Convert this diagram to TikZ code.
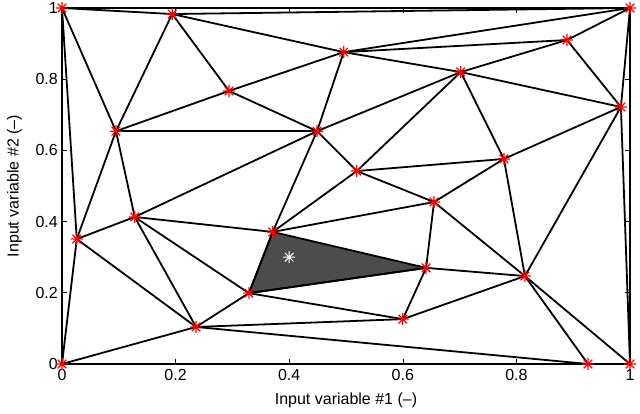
\documentclass[tikz,border=0pt]{standalone}
\usepackage{fontspec}
\setmainfont{Liberation Sans}
\begin{document}
\begin{tikzpicture}[x=1pt,y=1pt,
  edge/.style={line width=1.8pt,black},
  tri/.style={fill=black!70,draw=black,line width=1.8pt},
  lbl/.style={font=\fontsize{16}{19}\selectfont,inner sep=0pt}]
\useasboundingbox (0,0) rectangle (640,414);
\begin{scope}[shift={(62,50)},x=568pt,y=356pt]
\foreach \n/\px/\py in {A/0/1,B/0.194/0.983,C/0.496/0.876,D/0.702/0.82,E/0.889/0.91,F/1/1,G/0.984/0.722,H/0.294/0.767,I/0.095/0.654,J/0.449/0.654,K/0.778/0.576,L/0.519/0.542,M/0.655/0.455,N/0.128/0.413,O/0.026/0.351,P/0.371/0.371,Q/0.641/0.27,R/0.329/0.199,S/0.815/0.247,T/0.236/0.104,U/0.6/0.126,V/0/0,W/0.926/0,X/1/0}
  \coordinate (\n) at (\px,\py);
\coordinate (star) at (0.4,0.3);
\fill[tri] (P) -- (Q) -- (R) -- cycle;
\foreach \a/\b in {A/B,A/F,A/I,A/O,A/V,B/I,B/H,B/C,B/F,C/F,C/E,C/D,C/J,C/H,H/I,H/J,I/J,I/N,I/O,J/L,J/P,J/N,J/D,D/E,D/L,D/K,D/G,E/F,E/G,F/G,G/X,G/K,G/S,K/L,K/M,K/S,L/P,L/M,M/P,M/Q,M/S,Q/R,Q/S,Q/U,S/U,S/W,S/X,R/P,R/N,R/T,R/U,T/O,T/N,T/U,T/W,T/V,N/O,N/P,O/V,V/W,W/X,X/F}
  \draw[edge] (\a) -- (\b);
\foreach \t in {0,0.2,0.4,0.6,0.8,1}{
  \draw[line width=0.6pt] (\t,0) -- ++(0,5pt) (\t,1) -- ++(0,-5pt);
  \draw[line width=0.6pt] (0,\t) -- ++(5pt,0) (1,\t) -- ++(-5pt,0);
  \node[lbl,anchor=north] at ([yshift=-5pt]\t,0) {\t};
  \node[lbl,anchor=east] at ([xshift=-4pt]0,\t) {\t};
}
\draw[line width=1pt] (0,0) rectangle (1,1);
\foreach \n in {A,B,C,D,E,F,G,H,I,J,K,L,M,N,O,P,Q,R,S,T,U,V,W,X}
  \draw[red,line width=1.2pt] ([xshift=-6pt]\n) -- ([xshift=6pt]\n)
    ([yshift=-6pt]\n) -- ([yshift=6pt]\n)
    ([shift={(-4.3pt,-4.3pt)}]\n) -- ([shift={(4.3pt,4.3pt)}]\n)
    ([shift={(-4.3pt,4.3pt)}]\n) -- ([shift={(4.3pt,-4.3pt)}]\n);
\draw[white,line width=1pt] ([xshift=-6pt]star) -- ([xshift=6pt]star)
    ([yshift=-6pt]star) -- ([yshift=6pt]star)
    ([shift={(-4.3pt,-4.3pt)}]star) -- ([shift={(4.3pt,4.3pt)}]star)
    ([shift={(-4.3pt,4.3pt)}]star) -- ([shift={(4.3pt,-4.3pt)}]star);
\node[lbl,anchor=south] (xl) at (0.5,-0.125) {Input variable \#1 (--)};
\node[lbl,rotate=90,anchor=north] (yl) at (-0.097,0.5) {Input variable \#2 (--)};
\end{scope}
\end{tikzpicture}
\end{document}
